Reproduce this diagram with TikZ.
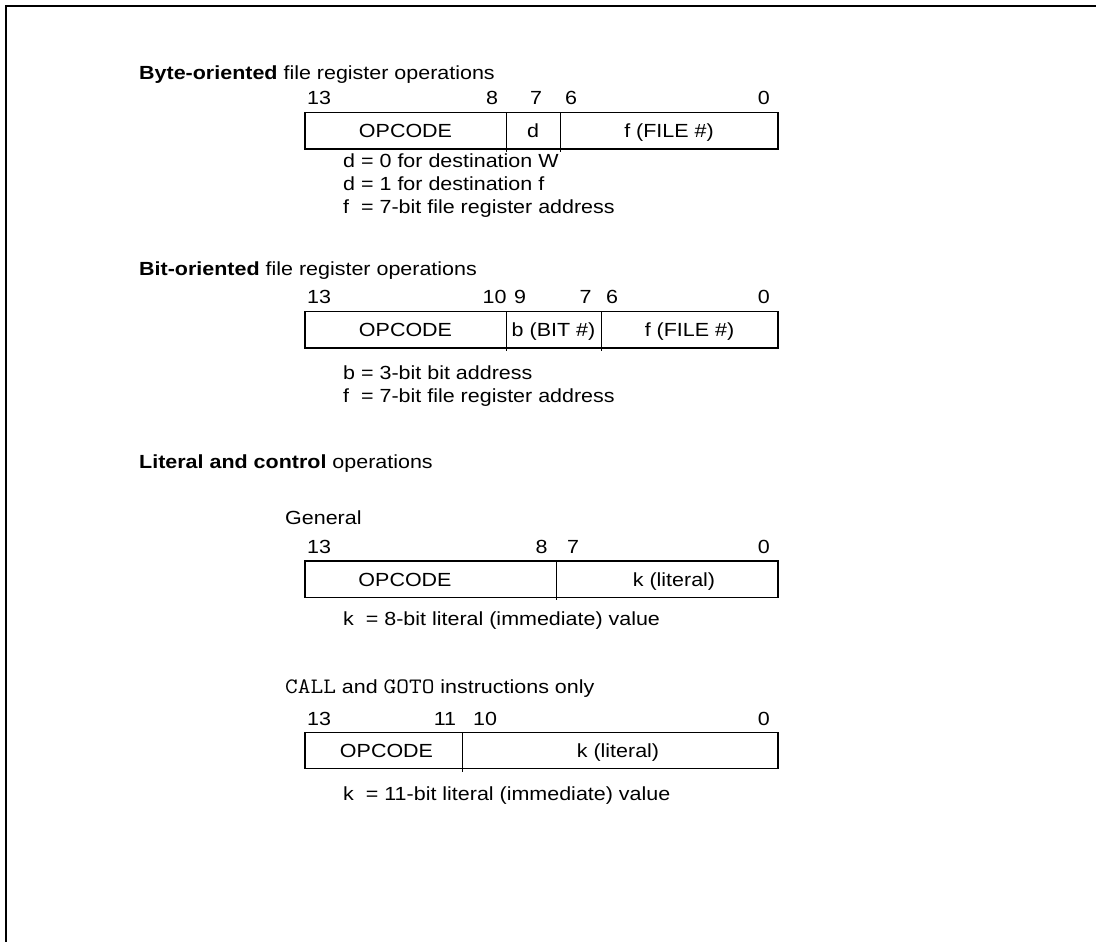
\documentclass[tikz,border=0pt]{standalone}
\usepackage{fontspec}
\usepackage{graphicx}
\setmainfont[FakeStretch=1.13]{Liberation Sans}
\begin{document}
\begin{tikzpicture}[x=1pt,y=-1pt,
  font=\fontsize{19}{23}\selectfont,
  txt/.style={inner sep=0pt, anchor=base west},
  bitno/.style={inner sep=0pt, anchor=base},
  bitlo/.style={inner sep=0pt, anchor=base east},
  fieldtxt/.style={inner sep=0pt, anchor=base},
  regbox/.style={draw, line width=1.2pt, inner sep=0pt, outer sep=0pt, anchor=north west},
  divider/.style={line width=1pt},
  frameline/.style={line width=2.4pt}]
\newcommand\instr[1]{\scalebox{1.12}[1]{\fontsize{22}{23}\selectfont\ttfamily #1}}
\useasboundingbox (0,0) rectangle (1096,942);

% page frame (left and top rules)
\coordinate (fb) at (6,942);
\coordinate (fc) at (6,6);
\coordinate (fr) at (1096,6);
\draw[frameline] (fb) -- (fc) -- (fr);

% ---------------- Byte-oriented ----------------
\node[txt] (t1) at (139,79.5) {\textbf{Byte-oriented} file register operations};
\node[txt]   (b1n13) at (307,105) {13};
\node[bitno] (b1n8)  at (492,105) {8};
\node[bitno] (b1n7)  at (536,105) {7};
\node[bitno] (b1n6)  at (571,105) {6};
\node[bitlo] (b1n0)  at (770,105) {0};
\node[regbox, minimum width=473pt, minimum height=36.5pt] (r1) at (305,112.5) {};
\coordinate (r1a) at (506,112.5);  \coordinate (r1a') at (506,151.5);
\coordinate (r1b) at (560,112.5);  \coordinate (r1b') at (560,151.5);
\draw[divider] (r1a) -- (r1a');
\draw[divider] (r1b) -- (r1b');
\node[fieldtxt] (r1op) at (405.5,137.7) {OPCODE};
\node[fieldtxt] (r1d)  at (533,137.7) {d};
\node[fieldtxt] (r1f)  at (669,137.7) {f (FILE \#)};
\node[txt] (d1a) at (343,167) {d = 0 for destination W};
\node[txt] (d1b) at (343,190) {d = 1 for destination f};
\node[txt] (d1c) at (343,213) {f\ \ = 7-bit file register address};

% ---------------- Bit-oriented ----------------
\node[txt] (t2) at (139,275.5) {\textbf{Bit-oriented} file register operations};
\node[txt]   (b2n13) at (307,303.7) {13};
\node[bitno] (b2n10) at (494.5,303.7) {10};
\node[bitno] (b2n9)  at (520,303.7) {9};
\node[bitno] (b2n7)  at (585.5,303.7) {7};
\node[bitno] (b2n6)  at (612,303.7) {6};
\node[bitlo] (b2n0)  at (770,303.7) {0};
\node[regbox, minimum width=473pt, minimum height=36.7pt] (r2) at (305,311.3) {};
\coordinate (r2a) at (506,311.3);  \coordinate (r2a') at (506,351);
\coordinate (r2b) at (601,311.3);  \coordinate (r2b') at (601,351);
\draw[divider] (r2a) -- (r2a');
\draw[divider] (r2b) -- (r2b');
\node[fieldtxt] (r2op) at (405.5,336.5) {OPCODE};
\node[fieldtxt] (r2b)  at (553.5,336.5) {b (BIT \#)};
\node[fieldtxt] (r2f)  at (689.5,336.5) {f (FILE \#)};
\node[txt] (d2a) at (343,379.5) {b = 3-bit bit address};
\node[txt] (d2b) at (343,402.5) {f\ \ = 7-bit file register address};

% ---------------- Literal and control ----------------
\node[txt] (t3) at (139,468.5) {\textbf{Literal and control} operations};
\node[txt] (g3) at (285,524) {General};
\node[txt]   (b3n13) at (307,553.3) {13};
\node[bitno] (b3n8)  at (541.7,553.3) {8};
\node[bitno] (b3n7)  at (573,553.3) {7};
\node[bitlo] (b3n0)  at (770,553.3) {0};
\node[regbox, minimum width=473pt, minimum height=36.3pt] (r3) at (305,561) {};
\coordinate (r3a) at (556.7,561);  \coordinate (r3a') at (556.7,600);
\draw[divider] (r3a) -- (r3a');
\node[fieldtxt] (r3op) at (405,586.2) {OPCODE};
\node[fieldtxt] (r3k)  at (674,586.2) {k (literal)};
\node[txt] (d3a) at (343,625.5) {k\ \ = 8-bit literal (immediate) value};

\node[txt] (g4) at (285,693) {\instr{CALL} and \instr{GOTO} instructions only};
\node[txt]   (b4n13) at (307,725) {13};
\node[bitno] (b4n11) at (445,725) {11};
\node[bitno] (b4n10) at (485,725) {10};
\node[bitlo] (b4n0)  at (770,725) {0};
\node[regbox, minimum width=473pt, minimum height=36.6pt] (r4) at (305,732.2) {};
\coordinate (r4a) at (462.3,732.2);  \coordinate (r4a') at (462.3,772);
\draw[divider] (r4a) -- (r4a');
\node[fieldtxt] (r4op) at (386.5,757.4) {OPCODE};
\node[fieldtxt] (r4k)  at (618,757.4) {k (literal)};
\node[txt] (d4a) at (343,800.5) {k\ \ = 11-bit literal (immediate) value};
\end{tikzpicture}
\end{document}
